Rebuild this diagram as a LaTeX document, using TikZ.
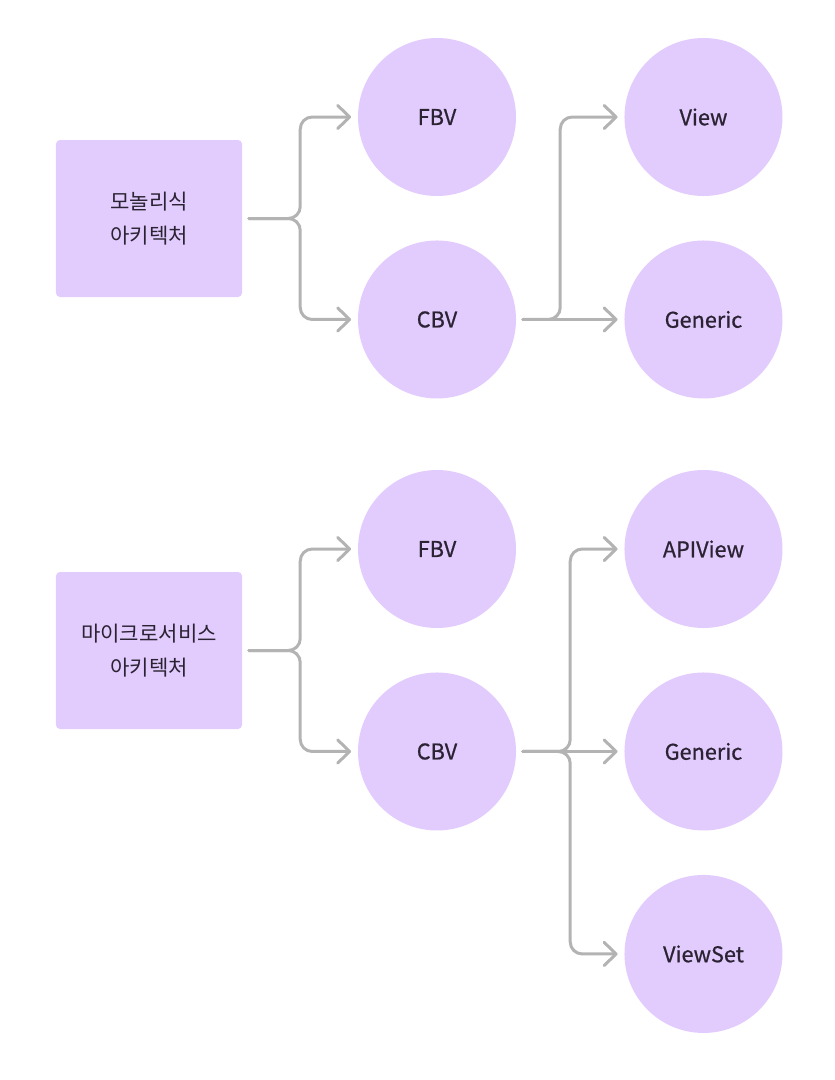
\documentclass[tikz,border=0pt]{standalone}
\usepackage{fontspec}
\setmainfont{Noto Sans CJK KR}
\newfontfamily\labelfont{Noto Sans CJK KR}[FakeBold=0.7]
\usetikzlibrary{positioning, arrows.meta}
\definecolor{lilac}{HTML}{E2CCFD}
\definecolor{ink}{HTML}{2B2233}
\definecolor{wire}{HTML}{B3B3B3}
\begin{document}
\begin{tikzpicture}
  [x=0.03cm,y=-0.03cm,
arch/.style={rectangle,rounded corners=0.12cm,fill=lilac,minimum width=5.58cm,minimum height=4.71cm,align=center,font=\fontsize{18}{29}\selectfont,text=ink},
view/.style={circle,fill=lilac,minimum size=4.74cm,inner sep=0pt,font=\labelfont\fontsize{18.5}{20}\selectfont,text=ink},
link/.style={draw=wire,line width=0.09cm,rounded corners=0.36cm,line cap=round,shorten <=0.2cm,shorten >=0.2cm,-{Straight Barb[length=0.36cm,width=0.7cm,round]}}]

  \useasboundingbox (0,0) rectangle (835,1080);

  % monolith
  \node[arch] (mono) at (149,218.5) {모놀리식\\아키텍처};
  \node[view] (fbv1) at (437,117) {FBV};
  \node[view] (cbv1) [below=1.32cm of fbv1] {CBV};
  \node[view] (view1) [right=3.24cm of fbv1] {View};
  \node[view] (gen1) [right=3.24cm of cbv1] {Generic};

  % microservice
  \node[arch] (micro) at (149,650.5) {마이크로서비스\\아키텍처};
  \node[view] (fbv2) at (437,549) {FBV};
  \node[view] (cbv2) [below=1.32cm of fbv2] {CBV};
  \node[view] (api2) [right=3.24cm of fbv2] {APIView};
  \node[view] (gen2) [right=3.24cm of cbv2] {Generic};
  \node[view] (set2) [below=1.32cm of gen2] {ViewSet};

\draw[link] (mono.east) -- ++(1.74cm,0) |- (fbv1.west);
\draw[link] (mono.east) -- ++(1.74cm,0) |- (cbv1.west);
\draw[link] (cbv1.east) -- ++(1.32cm,0) |- (view1.west);
\draw[link] (cbv1.east) -- (gen1.west);

\draw[link] (micro.east) -- ++(1.74cm,0) |- (fbv2.west);
\draw[link] (micro.east) -- ++(1.74cm,0) |- (cbv2.west);
\draw[link] (cbv2.east) -- ++(1.62cm,0) |- (api2.west);
\draw[link] (cbv2.east) -- (gen2.west);
\draw[link] (cbv2.east) -- ++(1.62cm,0) |- (set2.west);

\end{tikzpicture}
\end{document}
